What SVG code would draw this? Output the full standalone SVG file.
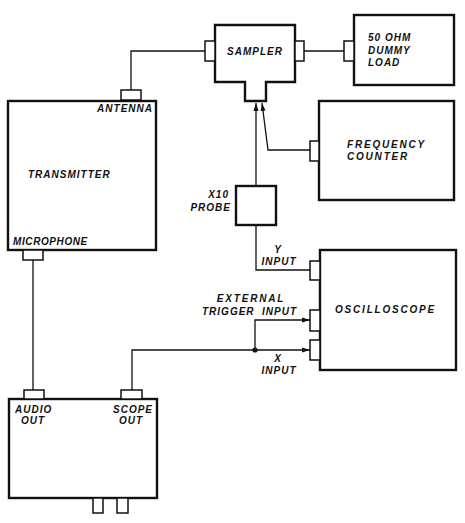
<svg xmlns="http://www.w3.org/2000/svg" width="465" height="523" viewBox="0 0 465 523">
<style>
.box{fill:none;stroke:#111;stroke-width:2.4}
.con{fill:#fff;stroke:#111;stroke-width:1.5}
.ln{fill:none;stroke:#111;stroke-width:1.3}
text{font-family:"Liberation Sans",Arial,sans-serif;font-weight:bold;font-style:italic;font-size:10px;fill:#111;letter-spacing:1px}
.wide{letter-spacing:1.8px}
</style>
<defs>
<marker id="ah" markerWidth="8" markerHeight="6" refX="8" refY="3" orient="auto" markerUnits="userSpaceOnUse">
<path d="M0,0.5 L8,3 L0,5.5 Z" fill="#111"/>
</marker>
</defs>
<rect width="465" height="523" fill="#fff"/>
<g id="connectors">
<polyline class="ln" points="205,51 131,51 131,90"/>
<line class="ln" x1="304" y1="51" x2="344" y2="51"/>
<line class="ln" x1="256" y1="186" x2="256" y2="103" marker-end="url(#ah)"/>
<polyline class="ln" points="310,150 268,150 262,103" marker-end="url(#ah)"/>
<polyline class="ln" points="256,225 256,270 310,270"/>
<line class="ln" x1="33" y1="260" x2="33" y2="390"/>
<polyline class="ln" points="132,390 132,350 310,350" marker-end="url(#ah)"/>
<polyline class="ln" points="255,350 255,320 310,320" marker-end="url(#ah)"/>
<circle cx="255" cy="350" r="2.6" fill="#111"/>
</g>
<g id="sampler">
<path class="box" d="M215,25 H295 V82 H266 V101 H245 V82 H215 Z"/>
<rect class="con" x="205" y="41" width="10" height="20"/>
<rect class="con" x="295" y="41" width="9" height="20"/>
<text x="255" y="55" text-anchor="middle">SAMPLER</text>
</g>
<g id="dummy-load">
<rect class="box" x="354" y="15" width="100" height="70"/>
<rect class="con" x="344" y="41" width="10" height="20"/>
<text x="368" y="41">50 OHM</text>
<text x="368" y="54">DUMMY</text>
<text x="368" y="66">LOAD</text>
</g>
<g id="frequency-counter">
<rect class="box" x="319" y="101" width="135" height="99"/>
<rect class="con" x="310" y="141" width="9" height="20"/>
<text x="347" y="148" class="wide">FREQUENCY</text>
<text x="347" y="160" class="wide">COUNTER</text>
</g>
<g id="transmitter">
<rect class="box" x="8" y="101" width="148" height="149"/>
<rect class="con" x="121" y="90" width="20" height="10"/>
<rect class="con" x="23" y="250" width="20" height="10"/>
<text x="153" y="112" text-anchor="end">ANTENNA</text>
<text x="28" y="178">TRANSMITTER</text>
<text x="13" y="245" style="letter-spacing:0.6px">MICROPHONE</text>
</g>
<g id="probe">
<rect class="box" x="236" y="186" width="40" height="39"/>
<text x="229" y="198" text-anchor="end">X10</text>
<text x="231" y="211" text-anchor="end">PROBE</text>
</g>
<g id="oscilloscope">
<rect class="box" x="320" y="250" width="136" height="120"/>
<rect class="con" x="310" y="261" width="10" height="19"/>
<rect class="con" x="310" y="310" width="10" height="21"/>
<rect class="con" x="310" y="340" width="10" height="20"/>
<text x="335" y="313" class="wide">OSCILLOSCOPE</text>
<text x="278" y="253" text-anchor="middle">Y</text>
<text x="279" y="265" text-anchor="middle">INPUT</text>
<text x="251" y="302" text-anchor="middle" class="wide">EXTERNAL</text>
<text x="202" y="315">TRIGGER</text>
<text x="297" y="315" text-anchor="end">INPUT</text>
<text x="278" y="362" text-anchor="middle">X</text>
<text x="279" y="374" text-anchor="middle">INPUT</text>
</g>
<g id="audio-box">
<rect class="box" x="9" y="399" width="148" height="99"/>
<rect class="con" x="24" y="390" width="20" height="9"/>
<rect class="con" x="121" y="390" width="21" height="9"/>
<rect class="con" x="93" y="498" width="10" height="15"/>
<rect class="con" x="117" y="498" width="11" height="15"/>
<text x="15" y="413">AUDIO</text>
<text x="33" y="424" text-anchor="middle">OUT</text>
<text x="113" y="413">SCOPE</text>
<text x="131" y="424" text-anchor="middle">OUT</text>
</g>
</svg>
